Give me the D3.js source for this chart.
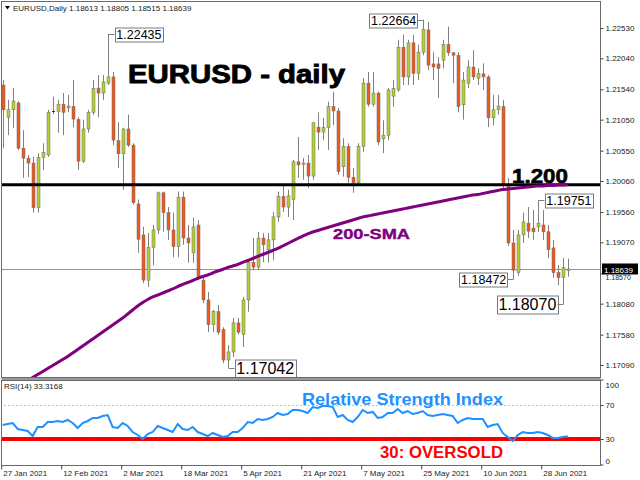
<!DOCTYPE html>
<html><head><meta charset="utf-8">
<script src="https://cdn.jsdelivr.net/npm/d3@7"></script>
<style>body{margin:0;background:#fff}svg{display:block}text{font-family:"Liberation Sans",Arial,sans-serif}</style>
</head><body>
<svg id="c" width="640" height="480"></svg>
<script>
// ---- data (EURUSD daily, 27 Jan 2021 .. 5 Jul 2021) ----
const openP = [1.2161,1.2109,1.2121,1.2132,1.2059,1.2043,1.2035,1.1963,1.2044,1.2048,
1.2118,1.2118,1.2130,1.2124,1.2126,1.2105,1.2038,1.2090,1.2117,1.2156,
1.2148,1.2164,1.2174,1.2071,1.2050,1.2090,1.2064,1.1969,1.1919,1.1846,
1.1899,1.1927,1.1987,1.1955,1.1927,1.1900,1.1980,1.1914,1.1890,1.1935,
1.1846,1.1814,1.1774,1.1795,1.1766,1.1717,1.1730,1.1777,1.1758,1.1814,
1.1875,1.1867,1.1914,1.1895,1.1911,1.1948,1.1981,1.1964,1.1976,1.2037,
1.2033,1.2035,1.2014,1.2093,1.2085,1.2092,1.2126,1.2119,1.2029,1.2062,
1.2012,1.2003,1.2062,1.2164,1.2130,1.2148,1.2074,1.2080,1.2143,1.2153,
1.2222,1.2174,1.2229,1.2180,1.2214,1.2250,1.2195,1.2195,1.2201,1.2226,
1.2213,1.2209,1.2129,1.2164,1.2190,1.2172,1.2179,1.2174,1.2108,1.2121,
1.2126,1.2000,1.1906,1.1858,1.1919,1.1938,1.1930,1.1932,1.1935,1.1924,
1.1898,1.1858,1.1850,1.18613];
const highP = [1.2169,1.2137,1.2156,1.2135,1.2088,1.2048,1.2045,1.2051,1.2067,1.2121,
1.2142,1.2137,1.2148,1.2145,1.2169,1.2109,1.2105,1.2121,1.2169,1.2177,
1.2177,1.22435,1.2182,1.2101,1.2092,1.2113,1.2067,1.1976,1.1932,1.1922,
1.1935,1.1989,1.1989,1.1964,1.1955,1.1989,1.1989,1.1935,1.1947,1.1943,
1.1854,1.1827,1.1798,1.1806,1.1770,1.1741,1.1785,1.1785,1.1819,1.1878,
1.1914,1.1924,1.1922,1.1922,1.1956,1.1989,1.2000,1.1992,1.2040,1.2077,
1.2043,1.2048,1.2101,1.2117,1.2108,1.2134,1.2150,1.2124,1.2075,1.2067,
1.2027,1.2067,1.2172,1.2182,1.2182,1.2150,1.2104,1.2156,1.2169,1.2234,
1.2242,1.2234,1.2242,1.2226,1.22664,1.2263,1.2214,1.2206,1.2234,1.2255,
1.2214,1.2214,1.2182,1.2201,1.2217,1.2188,1.2196,1.2177,1.2145,1.2145,
1.2137,1.2011,1.1927,1.1927,1.1955,1.1964,1.1959,1.19751,1.1959,1.1935,
1.1911,1.1870,1.1882,1.18805];
const lowP = [1.2059,1.2080,1.2092,1.2056,1.2011,1.2012,1.1955,1.1955,1.2024,1.2045,
1.2114,1.2084,1.2080,1.2117,1.2093,1.2024,1.2035,1.2084,1.2113,1.2109,
1.2137,1.2161,1.2064,1.2027,1.1992,1.2061,1.1968,1.1890,1.1841,1.1835,
1.1870,1.1921,1.1924,1.1911,1.1883,1.1883,1.1903,1.1874,1.1874,1.1846,
1.1809,1.1762,1.1762,1.1758,1.1712,1.17042,1.1722,1.1758,1.1738,1.1795,
1.1862,1.1862,1.1875,1.1874,1.1878,1.1940,1.1956,1.1948,1.1943,1.2011,
1.2008,1.1995,1.2008,1.2056,1.2072,1.2056,1.2096,1.2016,1.2013,1.2003,
1.1987,1.2000,1.2053,1.2126,1.2126,1.2064,1.2051,1.2072,1.2126,1.2150,
1.2161,1.2161,1.2161,1.2169,1.2209,1.2185,1.2169,1.2140,1.2188,1.2208,
1.2164,1.2117,1.2105,1.2156,1.2169,1.2161,1.2153,1.2093,1.2096,1.2113,
1.1992,1.1901,1.18472,1.1853,1.1906,1.1914,1.1911,1.1924,1.1911,1.1882,
1.1850,1.1838,1.18070,1.18515];
const closeP = [1.2121,1.2121,1.2135,1.2059,1.2043,1.2035,1.1963,1.2044,1.2052,1.2117,
1.2119,1.2130,1.2117,1.2127,1.2106,1.2038,1.2090,1.2117,1.2155,1.2148,
1.2166,1.2174,1.2072,1.2050,1.2090,1.2064,1.1971,1.1912,1.1846,1.1899,
1.1927,1.1987,1.1955,1.1927,1.1900,1.1980,1.1914,1.1906,1.1932,1.1850,
1.1814,1.1774,1.1795,1.1762,1.1717,1.1730,1.1777,1.1762,1.1814,1.1875,
1.1867,1.1914,1.1903,1.1911,1.1948,1.1981,1.1964,1.1982,1.2037,1.2032,
1.2035,1.2014,1.2100,1.2085,1.2092,1.2126,1.2119,1.2021,1.2062,1.2012,
1.2003,1.2062,1.2164,1.2130,1.2148,1.2069,1.2080,1.2153,1.2155,1.2222,
1.2174,1.2229,1.2180,1.2214,1.2251,1.2193,1.2190,1.2188,1.2226,1.2213,
1.2209,1.2126,1.2169,1.2190,1.2174,1.2180,1.2174,1.2108,1.2121,1.2127,
1.2000,1.1906,1.1862,1.1919,1.1940,1.1925,1.1924,1.1938,1.1924,1.1895,
1.1858,1.1850,1.1866,1.18639];
const sma200 = [null,null,null,null,null,1.16832,1.16888,1.16937,1.16985,1.17034,
1.17082,1.17131,1.17179,1.17227,1.17284,1.17340,1.17397,1.17453,1.17510,1.17566,
1.17623,1.17679,1.17736,1.17792,1.17849,1.17913,1.17978,1.18043,1.18099,1.18148,
1.18188,1.18220,1.18252,1.18285,1.18317,1.18357,1.18390,1.18422,1.18454,1.18487,
1.18519,1.18543,1.18575,1.18608,1.18632,1.18664,1.18688,1.18712,1.18745,1.18777,
1.18809,1.18842,1.18874,1.18906,1.18938,1.18971,1.19011,1.19051,1.19092,1.19132,
1.19172,1.19205,1.19237,1.19261,1.19285,1.19310,1.19334,1.19358,1.19382,1.19406,
1.19431,1.19455,1.19479,1.19495,1.19511,1.19528,1.19544,1.19560,1.19576,1.19592,
1.19608,1.19624,1.19641,1.19657,1.19673,1.19689,1.19705,1.19721,1.19737,1.19754,
1.19770,1.19786,1.19802,1.19818,1.19834,1.19842,1.19859,1.19875,1.19891,1.19907,
1.19923,1.19931,1.19939,1.19947,1.19955,1.19963,1.19972,1.19980,1.19980,1.19988,
1.19988,1.19996,1.19996,1.20004];
const rsi14 = [46.5,47.6,48.8,41.8,40.6,39.4,33.5,44.1,44.1,50.0,
50.0,51.2,50.0,52.4,48.8,42.9,48.8,51.2,54.7,54.7,
57.1,58.2,44.1,42.9,48.8,45.3,38.2,34.7,30.0,35.9,
38.2,45.3,42.9,40.6,38.2,47.6,41.8,40.6,44.1,38.2,
35.9,33.5,37.1,34.7,32.4,33.5,38.2,38.2,42.9,50.0,
48.8,53.5,52.4,53.5,55.9,60.6,58.2,59.4,64.1,64.1,
62.9,60.6,67.6,66.5,68.8,68.8,67.6,55.9,58.2,52.4,
50.0,55.9,64.1,60.6,61.8,54.7,55.9,60.6,60.6,65.3,
60.6,62.9,59.4,60.6,62.9,58.2,57.1,58.2,59.4,58.2,
57.1,48.8,52.4,54.7,53.5,53.5,53.5,44.1,46.5,47.6,
37.1,32.4,27.6,34.7,38.2,37.1,37.1,38.2,37.1,34.7,
31.2,31.2,32.4,33.3168];
const tickIdx = [0,12,24,36,48,60,72,84,96,108];
const tickLabels = ["27 Jan 2021","12 Feb 2021","2 Mar 2021","18 Mar 2021","5 Apr 2021",
"21 Apr 2021","7 May 2021","25 May 2021","10 Jun 2021","28 Jun 2021"];
const priceTicks = [1.17090,1.17580,1.18080,1.18570,1.19070,1.19560,1.20060,1.20550,1.21050,1.21540,1.22040,1.22530];
const rsiTicks = [0,30,70,100];
const levelPrice = 1.2000;
const lastPrice = 1.18639;
const extremes = [ // price, bar index, side of label
  {p:1.22435,i:21,side:"r",big:false},
  {p:1.22664,i:84,side:"l",big:false},
  {p:1.17042,i:45,side:"r",big:true},
  {p:1.18472,i:102,side:"l",big:false},
  {p:1.19751,i:107,side:"r",big:false},
  {p:1.18070,i:112,side:"l",big:true}
];

// ---- drawing ----
const svg = d3.select("#c");
const L = 1.5, R = 600.5, T = 1.5, B = 377.5, RT = 380.5, RB = 465.5;
const x = d3.scaleLinear().domain([0,113]).range([2.7,567.7]);
const y = d3.scaleLinear().domain([1.17090,1.22530]).range([365,28]);
const yR = d3.scaleLinear().domain([0,100]).range([464.5,379.5]);
const fmt = d3.format(".5f");

const defs = svg.append("defs");
defs.append("clipPath").attr("id","cm").append("rect").attr("x",2).attr("y",2).attr("width",598).attr("height",375);
defs.append("clipPath").attr("id","cr").append("rect").attr("x",2).attr("y",381).attr("width",598).attr("height",84);

const main = svg.append("g").attr("clip-path","url(#cm)");
// current price line
main.append("line").attr("x1",0).attr("x2",600).attr("y1",Math.round(y(lastPrice))+0.5).attr("y2",Math.round(y(lastPrice))+0.5)
  .attr("stroke","#8c8cd2").attr("stroke-width",1);

// candles
const bars = d3.range(openP.length);
const cg = main.append("g");
bars.forEach(i=>{
  const cx = Math.round(x(i));
  const o = y(openP[i]), c = y(closeP[i]);
  cg.append("line").attr("x1",cx+0.5).attr("x2",cx+0.5).attr("y1",y(highP[i])).attr("y2",y(lowP[i]))
    .attr("stroke","#808080").attr("stroke-width",1);
  const top = Math.min(o,c), h = Math.abs(o-c);
  if (h < 1) {
    cg.append("line").attr("x1",cx-1).attr("x2",cx+2).attr("y1",top+0.5).attr("y2",top+0.5).attr("stroke","#333");
  } else {
    cg.append("rect").attr("x",cx-1).attr("y",top).attr("width",3).attr("height",h)
      .attr("fill", closeP[i] >= openP[i] ? "#b5cf32" : "#ee5a1e")
      .attr("stroke","#6b6b6b").attr("stroke-width",0.5);
  }
});

// 1.200 level
main.append("line").attr("x1",0).attr("x2",600).attr("y1",y(levelPrice)).attr("y2",y(levelPrice))
  .attr("stroke","#000").attr("stroke-width",3);

// 200 SMA
main.append("path").datum(bars.filter(i=>sma200[i]!==null))
  .attr("d", d3.line().x(i=>x(i)).y(i=>y(sma200[i])).curve(d3.curveMonotoneX))
  .attr("fill","none").attr("stroke","#800080").attr("stroke-width",3);

// extremes labels
extremes.forEach(e=>{
  const cx = Math.round(x(e.i))+0.5, cy = Math.round(y(e.p))+0.5;
  const fs = e.big ? 16 : 12.5;
  const t = svg.append("text").attr("font-size",fs).attr("fill","#000").text(fmt(e.p));
  const w = t.node().getComputedTextLength() + 3;
  const h = e.big ? 18 : 14;
  const bx = e.side==="r" ? cx + 6 : cx - 6 - w;
  svg.append("line").attr("x1",cx).attr("x2",e.side==="r"?bx:bx+w).attr("y1",cy).attr("y2",cy).attr("stroke","#808080");
  svg.insert("rect","text:last-of-type").attr("x",Math.round(bx)+0.5).attr("y",Math.round(cy-h/2)).attr("width",Math.round(w)).attr("height",h)
    .attr("fill","#fff").attr("stroke","#7a7a7a");
  t.attr("x",bx+1.8).attr("y",cy+fs*0.36);
  t.raise();
});

// RSI panel
const rg = svg.append("g").attr("clip-path","url(#cr)");
rg.append("line").attr("x1",0).attr("x2",600).attr("y1",Math.round(yR(70))+0.5).attr("y2",Math.round(yR(70))+0.5)
  .attr("stroke","#c0c0c0").attr("stroke-dasharray","2,2");
rg.append("line").attr("x1",0).attr("x2",600).attr("y1",yR(30)).attr("y2",yR(30))
  .attr("stroke","#ff0000").attr("stroke-width",4);
rg.append("line").attr("x1",0).attr("x2",600).attr("y1",yR(30)).attr("y2",yR(30))
  .attr("stroke","#b00000").attr("stroke-width",1).attr("stroke-dasharray","1,2");
rg.append("path").datum(bars)
  .attr("d", d3.line().x(i=>x(i)).y(i=>yR(rsi14[i])))
  .attr("fill","none").attr("stroke","#1e90ff").attr("stroke-width",2);

// frames
svg.append("rect").attr("x",L).attr("y",T).attr("width",R-L).attr("height",B-T).attr("fill","none").attr("stroke","#6a6a6a");
svg.append("rect").attr("x",L).attr("y",RT).attr("width",R-L).attr("height",RB-RT).attr("fill","none").attr("stroke","#6a6a6a");
svg.append("line").attr("x1",L).attr("x2",R).attr("y1",379).attr("y2",379).attr("stroke","#9a9a9a").attr("stroke-width",2);

// price axis (the label hidden behind the current-price tag is left out)
const ax = svg.append("g").attr("transform",`translate(${R},0)`)
  .call(d3.axisRight(y).tickValues(priceTicks).tickFormat(fmt).tickSize(3).tickPadding(2));
ax.select(".domain").remove();
ax.selectAll("text").attr("font-size",8).attr("fill","#222").style("font-family","Liberation Sans, Arial, sans-serif");
ax.selectAll("line").attr("stroke","#444");
ax.selectAll(".tick").filter(d=>Math.abs(y(d)-y(lastPrice))<8).select("text").attr("dy","0.9em").attr("font-size",7);

// current price tag
const ly = Math.round(y(lastPrice))+0.5;
svg.append("rect").attr("x",602).attr("y",ly-6).attr("width",36).attr("height",11).attr("fill","#000");
svg.append("text").attr("x",604).attr("y",ly+3).attr("font-size",8).attr("fill","#fff").text(fmt(lastPrice));

// rsi axis
const rax = svg.append("g").attr("transform",`translate(${R},0)`)
  .call(d3.axisRight(yR).tickValues(rsiTicks).tickFormat(d3.format("d")).tickSize(3).tickPadding(2));
rax.select(".domain").remove();
rax.selectAll("text").attr("font-size",8).attr("fill","#222").style("font-family","Liberation Sans, Arial, sans-serif")
  .attr("dy", d => d===100 ? "0.95em" : d===0 ? "-0.15em" : "0.32em");
rax.selectAll("line").attr("stroke","#444");

// time axis
const tx = svg.append("g").attr("transform",`translate(0,${RB})`)
  .call(d3.axisBottom(x).tickValues(tickIdx).tickFormat((d,k)=>tickLabels[k]).tickSize(4).tickPadding(1));
tx.select(".domain").remove();
tx.selectAll("line").attr("stroke","#444").attr("transform","translate(-1.5,0)");
tx.selectAll("text").attr("font-size",8).attr("fill","#222").attr("text-anchor","start").attr("dx",0)
  .style("font-family","Liberation Sans, Arial, sans-serif");

// header texts
svg.append("path").attr("d","M5,6 L10,6 L7.5,9.5 Z").attr("fill","#000");
svg.append("text").attr("x",13).attr("y",11).attr("font-size",8).attr("fill","#222")
  .text("EURUSD,Daily  1.18613 1.18805 1.18515 1.18639");
svg.append("text").attr("x",4).attr("y",389).attr("font-size",8).attr("fill","#222").text("RSI(14) 33.3168");

// annotations
svg.append("text").attr("x",128).attr("y",83).attr("font-size",26).attr("font-weight","bold")
  .attr("stroke","#000").attr("stroke-width",0.9).attr("textLength",217).attr("lengthAdjust","spacingAndGlyphs")
  .attr("fill","#000").text("EURUSD - daily");
svg.append("text").attr("x",512).attr("y",183).attr("font-size",20).attr("font-weight","bold")
  .attr("stroke","#000").attr("stroke-width",0.6).attr("textLength",56).attr("lengthAdjust","spacingAndGlyphs")
  .attr("fill","#000").text("1.200");
svg.append("text").attr("x",333).attr("y",238.5).attr("font-size",15).attr("font-weight","bold")
  .attr("stroke","#800080").attr("stroke-width",0.4).attr("textLength",77).attr("lengthAdjust","spacingAndGlyphs")
  .attr("fill","#800080").text("200-SMA");
svg.append("text").attr("x",302).attr("y",405).attr("font-size",17).attr("font-weight","bold")
  .attr("textLength",201).attr("lengthAdjust","spacingAndGlyphs")
  .attr("fill","#1e90ff").text("Relative Strength Index");
svg.append("text").attr("x",380).attr("y",457.5).attr("font-size",16).attr("font-weight","bold")
  .attr("textLength",123).attr("lengthAdjust","spacingAndGlyphs")
  .attr("fill","#ff0000").text("30: OVERSOLD");
</script>
</body></html>
